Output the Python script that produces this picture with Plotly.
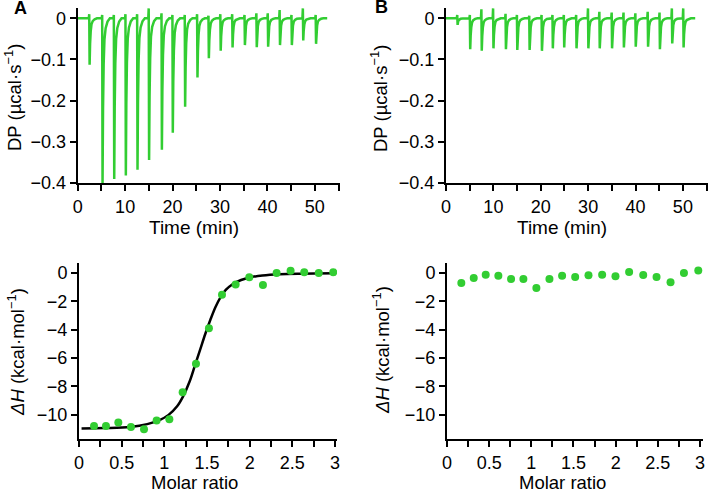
import plotly.graph_objects as go

W, H = 709, 490
GREEN = "#32cd32"
FONT = "Liberation Sans, Arial, sans-serif"

# ---------------- Data ----------------
# Panel A thermogram: injection times (min), peak depths (µcal/s), small pre-injection spikes
inj_time_A = [2.46, 5.19, 7.65, 10.1, 12.56, 15.0, 17.7, 20.0, 22.6, 25.2,
              27.6, 30.1, 32.6, 35.2, 37.7, 40.1, 42.6, 45.1, 47.5, 50.2]
peak_A = [0.113, 0.400, 0.390, 0.382, 0.368, 0.344, 0.319, 0.278, 0.215, 0.144,
          0.097, 0.079, 0.071, 0.065, 0.070, 0.069, 0.065, 0.065, 0.054, 0.062]
spike_A = [0.010, 0.008, 0.008, 0.010, 0.010, 0.024, 0.012, 0.008, 0.008, 0.010,
           0.006, 0.010, 0.010, 0.008, 0.012, 0.012, 0.020, 0.008, 0.024, 0.008]

# Panel B thermogram
inj_time_B = [2.4, 5.06, 7.5, 9.97, 12.6, 15.0, 17.6, 20.2, 22.5, 24.9,
              27.5, 30.0, 32.4, 35.0, 37.5, 40.0, 42.6, 45.1, 47.7, 50.1]
peak_B = [0.016, 0.075, 0.079, 0.073, 0.075, 0.077, 0.077, 0.079, 0.073, 0.071,
          0.073, 0.073, 0.073, 0.073, 0.071, 0.069, 0.069, 0.075, 0.061, 0.071]
spike_B = [0.008, 0.008, 0.022, 0.024, 0.011, 0.008, 0.006, 0.008, 0.008, 0.008,
           0.008, 0.024, 0.016, 0.014, 0.014, 0.012, 0.016, 0.014, 0.024, 0.024]
run_end = 52.6

# Peak shape (time offset after injection, fraction of depth)
peak_shape_t = [0.05, 0.15, 0.28, 0.45, 0.7, 1.1, 1.6]
peak_shape_f = [1.0, 0.55, 0.28, 0.13, 0.06, 0.02, 0.0]

# Panel A integrated heats
ratio_A = [0.176, 0.316, 0.461, 0.609, 0.762, 0.910, 1.059, 1.215, 1.371, 1.523,
           1.676, 1.836, 1.996, 2.156, 2.316, 2.48, 2.64, 2.81, 2.98]
dH_A = [-10.78, -10.78, -10.54, -10.85, -11.01, -10.40, -10.31, -8.40, -6.40, -3.90,
        -1.53, -0.82, -0.31, -0.85, 0.0, 0.16, 0.05, 0.0, 0.05]
fit_x = [0.03, 0.3, 0.6, 0.8, 0.95, 1.05, 1.15, 1.22, 1.3, 1.36, 1.42, 1.48,
         1.54, 1.6, 1.66, 1.72, 1.8, 1.9, 2.0, 2.15, 2.35, 2.6, 3.0]
fit_y = [-10.96, -10.93, -10.85, -10.65, -10.35, -10.0, -9.4, -8.7, -7.6, -6.5, -5.4, -4.3,
         -3.3, -2.4, -1.7, -1.2, -0.8, -0.5, -0.32, -0.18, -0.09, -0.05, -0.03]

# Panel B integrated heats
ratio_B = [0.17, 0.317, 0.459, 0.609, 0.76, 0.906, 1.06, 1.215, 1.365, 1.52,
           1.678, 1.84, 1.998, 2.16, 2.327, 2.485, 2.651, 2.81, 2.98]
dH_B = [-0.71, -0.35, -0.12, -0.19, -0.43, -0.43, -1.06, -0.43, -0.19, -0.28,
        -0.17, -0.12, -0.24, 0.07, -0.14, -0.28, -0.66, 0.0, 0.17]


def thermogram(times, depths, spikes, t_end):
    xs, ys = [0.0], [0.0]
    for t0, h, s in zip(times, depths, spikes):
        xs += [t0 - 0.12, t0 - 0.03]
        ys += [0.0, s]
        for off, frac in zip(peak_shape_t, peak_shape_f):
            xs.append(t0 + off)
            ys.append(-h * frac)
    xs.append(t_end)
    ys.append(0.0)
    return xs, ys


def px_x(p):
    return p / W


def px_y(p):
    return 1 - p / H


fig = go.Figure()

xa, ya = thermogram(inj_time_A, peak_A, spike_A, run_end)
xb, yb = thermogram(inj_time_B, peak_B, spike_B, run_end)
fig.add_trace(go.Scatter(x=xa, y=ya, mode="lines", line=dict(color=GREEN, width=2.5),
                         xaxis="x", yaxis="y", showlegend=False, hoverinfo="skip"))
fig.add_trace(go.Scatter(x=xb, y=yb, mode="lines", line=dict(color=GREEN, width=2.5),
                         xaxis="x2", yaxis="y2", showlegend=False, hoverinfo="skip"))
fig.add_trace(go.Scatter(x=fit_x, y=fit_y, mode="lines", line=dict(color="black", width=2.5, shape="spline"),
                         xaxis="x3", yaxis="y3", showlegend=False, hoverinfo="skip"))
fig.add_trace(go.Scatter(x=ratio_A, y=dH_A, mode="markers", marker=dict(color=GREEN, size=8),
                         xaxis="x3", yaxis="y3", showlegend=False))
fig.add_trace(go.Scatter(x=ratio_B, y=dH_B, mode="markers", marker=dict(color=GREEN, size=8),
                         xaxis="x4", yaxis="y4", showlegend=False))

tickfont = dict(family=FONT, size=18, color="black")
common = dict(showline=True, linecolor="black", linewidth=2, ticks="outside", ticklen=6,
              tickwidth=2, tickcolor="black", showgrid=False, zeroline=False,
              tickfont=tickfont, fixedrange=True, automargin=False)


def xaxis(domain, rng, dtick, minor, anchor):
    return dict(domain=domain, range=rng, dtick=dtick, tick0=0, anchor=anchor,
                minor=dict(dtick=minor, tick0=0, ticks="outside", ticklen=6, tickwidth=2,
                           tickcolor="black", showgrid=False),
                **common)


def yaxis(domain, rng, dtick, anchor):
    return dict(domain=domain, range=rng, dtick=dtick, tick0=0, anchor=anchor, **common)


top_dom = [px_y(183), px_y(8)]
bot_dom = [px_y(439), px_y(263)]

fig.update_layout(
    width=W, height=H,
    margin=dict(l=0, r=0, t=0, b=0, autoexpand=False),
    paper_bgcolor="white", plot_bgcolor="white",
    font=dict(family=FONT, size=18, color="black"),
    xaxis=xaxis([px_x(77.7), px_x(340)], [0, 55.3], 10, 5, "y"),
    yaxis=yaxis(top_dom, [-0.4, 0.025], 0.1, "x"),
    xaxis2=xaxis([px_x(446), px_x(708)], [0, 55.3], 10, 5, "y2"),
    yaxis2=yaxis(top_dom, [-0.4, 0.025], 0.1, "x2"),
    xaxis3=xaxis([px_x(79), px_x(337)], [0, 3.024], 0.5, 0.25, "y3"),
    yaxis3=yaxis(bot_dom, [-11.7, 0.7], 2, "x3"),
    xaxis4=xaxis([px_x(447), px_x(703)], [0, 3.036], 0.5, 0.25, "y4"),
    yaxis4=yaxis(bot_dom, [-11.7, 0.7], 2, "x4"),
)


def label(text, x, y, angle=0, size=19, bold=False, yanchor="middle"):
    if bold:
        text = "<b>" + text + "</b>"
    fig.add_annotation(text=text, x=px_x(x), y=px_y(y), xref="paper", yref="paper",
                       showarrow=False, textangle=angle, xanchor="center", yanchor=yanchor,
                       font=dict(family=FONT, size=size, color="black"))


label("A", 20.5, -4, size=18, bold=True, yanchor="top")
label("B", 381.5, -5, size=18, bold=True, yanchor="top")
dp_title = "DP (µcal·s<sup>−1</sup>)"
dh_title = "<i>ΔH</i> (kcal·mol<sup>−1</sup>)"
label(dp_title, 13, 98, angle=-90, size=18.5)
label(dp_title, 379, 98, angle=-90, size=18.5)
label(dh_title, 16, 352, angle=-90, size=18.5)
label(dh_title, 381, 350, angle=-90, size=18.5)
label("Time (min)", 194, 227)
label("Time (min)", 562, 227)
label("Molar ratio", 194, 482, size=18.5)
label("Molar ratio", 562, 482, size=18.5)

fig.write_html("out.html",
               config={"displayModeBar": False},
               post_script="document.body.style.margin='0';document.body.style.padding='0';")
